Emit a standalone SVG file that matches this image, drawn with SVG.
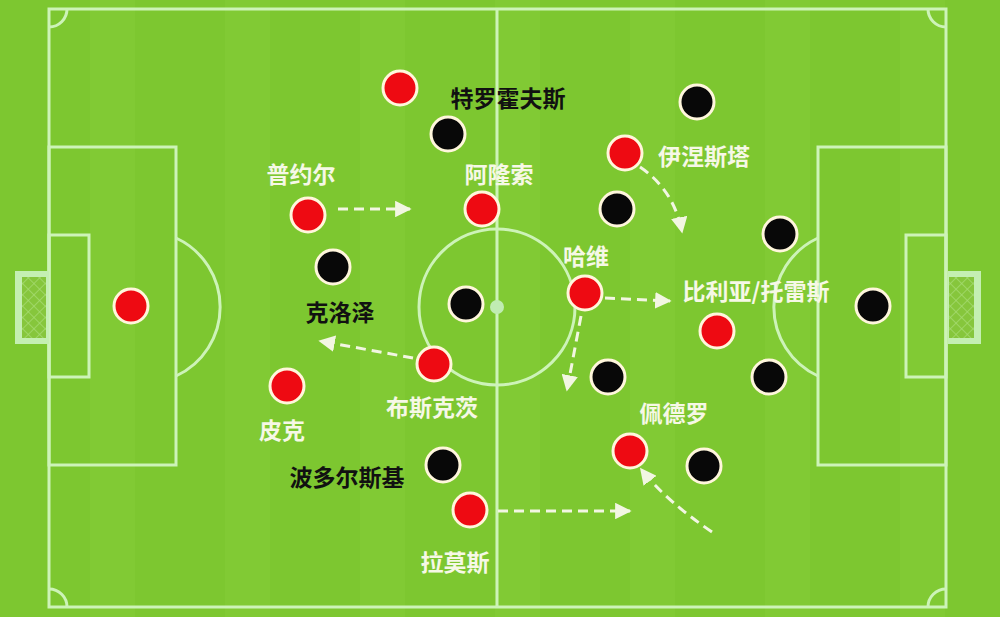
<svg xmlns="http://www.w3.org/2000/svg" width="1000" height="617" viewBox="0 0 1000 617">
<defs>
<style>
.ln{fill:none;stroke:#cdf3b8;stroke-width:3}
.red{fill:#ee0a12;stroke:#fff6dc;stroke-width:3}
.blk{fill:#080808;stroke:#fff6dc;stroke-width:3}
.lw{font-family:"Noto Sans CJK SC","Noto Sans CJK JP",sans-serif;font-weight:700;font-size:23px;fill:#f6f8e6;text-anchor:middle}
.lb{font-family:"Noto Sans CJK SC","Noto Sans CJK JP",sans-serif;font-weight:700;font-size:23px;fill:#111;text-anchor:middle}
.ar{fill:none;stroke:#f2f6e2;stroke-width:3;stroke-dasharray:10 6}
</style>
<marker id="ah" viewBox="0 0 10 10" refX="9" refY="5" markerWidth="5.5" markerHeight="5.5" orient="auto" markerUnits="strokeWidth">
<path d="M0,0 L10,5 L0,10 Z" fill="#f2f6e2"/>
</marker>
<pattern id="net" width="8" height="8" patternUnits="userSpaceOnUse" patternTransform="rotate(45)">
<rect width="8" height="8" fill="#86c63c"/>
<path d="M0,0 H8 M0,0 V8" stroke="#a6dc72" stroke-width="1.5"/>
</pattern>
</defs>
<rect x="0" y="0" width="1000" height="617" fill="#7dc730"/>
<g id="stripes" fill="#86cd38" opacity="0.5">
<rect x="90" y="0" width="45" height="617"/>
<rect x="225" y="0" width="45" height="617"/>
<rect x="360" y="0" width="45" height="617"/>
<rect x="495" y="0" width="45" height="617"/>
<rect x="630" y="0" width="45" height="617"/>
<rect x="765" y="0" width="45" height="617"/>
<rect x="900" y="0" width="45" height="617"/>
</g>
<g id="pitch">
<rect class="ln" x="49" y="9" width="897" height="598"/>
<line class="ln" x1="497" y1="9" x2="497" y2="607"/>
<circle class="ln" cx="497" cy="307" r="78"/>
<circle cx="497" cy="307" r="7" fill="#c0ecb2"/>
<path class="ln" d="M49,27 A18,18 0 0 0 67,9"/>
<path class="ln" d="M928,9 A18,18 0 0 0 946,27"/>
<path class="ln" d="M49,589 A18,18 0 0 1 67,607"/>
<path class="ln" d="M928,607 A18,18 0 0 1 946,589"/>
<rect class="ln" x="49" y="147" width="127" height="318"/>
<rect class="ln" x="49" y="235" width="40" height="142"/>
<path class="ln" d="M176,238 A76,76 0 0 1 176,376"/>
<rect class="ln" x="818" y="147" width="128" height="318"/>
<rect class="ln" x="906" y="235" width="40" height="142"/>
<path class="ln" d="M818,238 A76,76 0 0 0 818,376"/>
<rect x="15" y="271" width="34" height="73" fill="#c4efb2"/>
<rect x="22" y="277" width="24" height="61" fill="url(#net)"/>
<rect x="948" y="271" width="33" height="73" fill="#c4efb2"/>
<rect x="949" y="277" width="25" height="61" fill="url(#net)"/>
</g>
<g id="connectors">
<line class="ar" x1="338" y1="209" x2="410" y2="209" marker-end="url(#ah)"/>
<line class="ar" x1="413" y1="358" x2="320" y2="341" marker-end="url(#ah)"/>
<line class="ar" x1="605" y1="298" x2="670" y2="301" marker-end="url(#ah)"/>
<line class="ar" x1="581" y1="316" x2="567" y2="390" marker-end="url(#ah)"/>
<path class="ar" d="M640,167 Q674,190 682,232" marker-end="url(#ah)"/>
<line class="ar" x1="498" y1="511" x2="630" y2="511" marker-end="url(#ah)"/>
<path class="ar" d="M712,532 Q665,500 641,469" marker-end="url(#ah)"/>
</g>
<g id="gk-red"><circle class="red" cx="131" cy="306" r="17"/></g>
<g id="puyol"><circle class="red" cx="308" cy="215" r="17"/><text class="lw" x="301" y="183">普约尔</text></g>
<g id="torres-red"><circle class="red" cx="400" cy="88" r="17"/><text class="lb" x="508" y="107">特罗霍夫斯</text></g>
<g id="alonso"><circle class="red" cx="482" cy="209" r="17"/><text class="lw" x="499" y="183">阿隆索</text></g>
<g id="busquets"><circle class="red" cx="434" cy="364" r="17"/><text class="lw" x="432" y="416">布斯克茨</text></g>
<g id="pique"><circle class="red" cx="287" cy="386" r="17"/><text class="lw" x="282" y="439">皮克</text></g>
<g id="ramos"><circle class="red" cx="470" cy="510" r="17"/><text class="lw" x="455" y="571">拉莫斯</text></g>
<g id="xavi"><circle class="red" cx="585" cy="293" r="17"/><text class="lw" x="586" y="265">哈维</text></g>
<g id="iniesta"><circle class="red" cx="625" cy="153" r="17"/><text class="lw" x="704" y="165">伊涅斯塔</text></g>
<g id="villa"><circle class="red" cx="717" cy="331" r="17"/><text class="lw" x="756" y="300">比利亚/托雷斯</text></g>
<g id="pedro"><circle class="red" cx="630" cy="451" r="17"/><text class="lw" x="674" y="422">佩德罗</text></g>
<g id="b1"><circle class="blk" cx="448" cy="134" r="17"/></g>
<g id="klose"><circle class="blk" cx="333" cy="267" r="17"/><text class="lb" x="340" y="321">克洛泽</text></g>
<g id="b3"><circle class="blk" cx="466" cy="304" r="17"/></g>
<g id="podolski"><circle class="blk" cx="443" cy="465" r="17"/><text class="lb" x="347" y="486">波多尔斯基</text></g>
<g id="b5"><circle class="blk" cx="617" cy="209" r="17"/></g>
<g id="b6"><circle class="blk" cx="697" cy="102" r="17"/></g>
<g id="b7"><circle class="blk" cx="780" cy="234" r="17"/></g>
<g id="b8"><circle class="blk" cx="608" cy="377" r="17"/></g>
<g id="b9"><circle class="blk" cx="769" cy="377" r="17"/></g>
<g id="b10"><circle class="blk" cx="704" cy="466" r="17"/></g>
<g id="b11"><circle class="blk" cx="873" cy="306" r="17"/></g>
</svg>
